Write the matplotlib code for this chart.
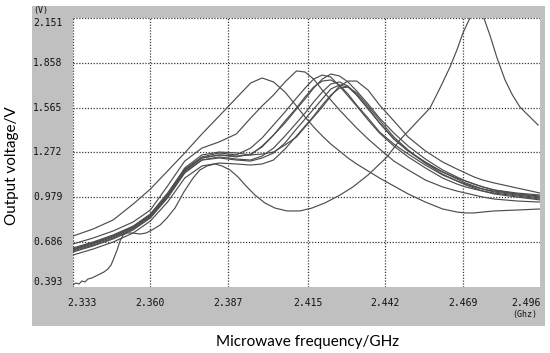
import matplotlib.pyplot as plt
from matplotlib.patches import Rectangle
from matplotlib import transforms

# shared frequency grid (GHz) for the bundle of sweeps
freq = [2.333, 2.340, 2.347, 2.354, 2.360, 2.366, 2.372, 2.378, 2.384, 2.390,
        2.395, 2.399, 2.403, 2.407, 2.411, 2.414, 2.417, 2.420, 2.423, 2.426,
        2.429, 2.432, 2.436, 2.440, 2.445, 2.450, 2.456, 2.462, 2.467, 2.470,
        2.473, 2.476, 2.480, 2.488, 2.496]

volt_b = [0.726, 0.772, 0.831, 0.935, 1.033, 1.151, 1.269, 1.393, 1.510, 1.628,
          1.726, 1.759, 1.733, 1.667, 1.576, 1.504, 1.439, 1.380, 1.327, 1.282,
          1.236, 1.197, 1.151, 1.105, 1.053, 1.001, 0.948, 0.903, 0.883, 0.877,
          0.877, 0.883, 0.890, 0.896, 0.903]
volt_c = [0.674, 0.713, 0.759, 0.818, 0.896, 1.053, 1.216, 1.301, 1.341, 1.393,
          1.497, 1.576, 1.648, 1.733, 1.805, 1.798, 1.752, 1.680, 1.615, 1.550,
          1.491, 1.432, 1.360, 1.295, 1.216, 1.158, 1.092, 1.047, 1.020, 1.007,
          0.994, 0.981, 0.968, 0.955, 0.948]
volt_d = [0.648, 0.687, 0.733, 0.791, 0.870, 1.007, 1.164, 1.243, 1.269, 1.256,
          1.301, 1.367, 1.452, 1.537, 1.628, 1.693, 1.752, 1.778, 1.765, 1.706,
          1.641, 1.576, 1.484, 1.399, 1.314, 1.243, 1.171, 1.105, 1.066, 1.047,
          1.033, 1.020, 1.007, 0.988, 0.968]
volt_e = [0.635, 0.674, 0.720, 0.778, 0.857, 0.988, 1.151, 1.236, 1.256, 1.249,
          1.256, 1.314, 1.386, 1.465, 1.556, 1.622, 1.693, 1.752, 1.785, 1.772,
          1.733, 1.674, 1.589, 1.497, 1.399, 1.314, 1.229, 1.158, 1.112, 1.086,
          1.066, 1.047, 1.027, 1.001, 0.981]
volt_f = [0.622, 0.661, 0.707, 0.766, 0.844, 0.975, 1.138, 1.223, 1.243, 1.229,
          1.223, 1.249, 1.301, 1.380, 1.465, 1.530, 1.602, 1.667, 1.720, 1.733,
          1.706, 1.648, 1.556, 1.465, 1.360, 1.282, 1.210, 1.145, 1.099, 1.073,
          1.053, 1.033, 1.014, 0.994, 0.975]
volt_g = [0.641, 0.681, 0.726, 0.785, 0.864, 1.001, 1.171, 1.256, 1.275, 1.269,
          1.256, 1.262, 1.275, 1.321, 1.373, 1.439, 1.504, 1.569, 1.641, 1.706,
          1.739, 1.739, 1.680, 1.582, 1.478, 1.373, 1.282, 1.210, 1.164, 1.138,
          1.112, 1.092, 1.073, 1.040, 1.007]
volt_h = [0.628, 0.667, 0.713, 0.772, 0.850, 0.981, 1.145, 1.223, 1.236, 1.223,
          1.216, 1.236, 1.269, 1.334, 1.426, 1.491, 1.556, 1.622, 1.687, 1.713,
          1.700, 1.648, 1.563, 1.465, 1.360, 1.282, 1.203, 1.145, 1.105, 1.086,
          1.066, 1.047, 1.027, 1.007, 0.994]
volt_i = [0.602, 0.641, 0.687, 0.746, 0.824, 0.948, 1.105, 1.184, 1.203, 1.197,
          1.190, 1.197, 1.223, 1.295, 1.380, 1.445, 1.510, 1.582, 1.648, 1.693,
          1.700, 1.661, 1.576, 1.484, 1.373, 1.288, 1.203, 1.131, 1.086, 1.060,
          1.040, 1.020, 1.001, 0.981, 0.962]
volt_j = [0.641, 0.681, 0.726, 0.785, 0.864, 0.994, 1.158, 1.236, 1.256, 1.243,
          1.262, 1.308, 1.386, 1.478, 1.563, 1.635, 1.700, 1.739, 1.746, 1.713,
          1.654, 1.582, 1.497, 1.406, 1.327, 1.262, 1.190, 1.125, 1.086, 1.066,
          1.047, 1.033, 1.020, 1.001, 0.988]

# the odd sweep: noisy start, dip, then a large resonance near 2.474 GHz
freq_a = [2.3330, 2.3340, 2.3351, 2.3361, 2.3372, 2.3382, 2.3396, 2.3410, 2.3424,
          2.3438, 2.3452, 2.3463, 2.3473, 2.3484, 2.3494, 2.3505, 2.3518, 2.3539,
          2.3564, 2.3585, 2.3606, 2.3634, 2.3658, 2.3686, 2.3717, 2.3749, 2.3773,
          2.3798, 2.3826, 2.3850, 2.3878, 2.3906, 2.3934, 2.3965, 2.4000, 2.4035,
          2.4077, 2.4122, 2.4164, 2.4209, 2.4262, 2.4307, 2.4360, 2.4426, 2.4471,
          2.4517, 2.4576, 2.4611, 2.4646, 2.4670, 2.4691, 2.4709, 2.4740, 2.4764,
          2.4785, 2.4810, 2.4838, 2.4862, 2.4890, 2.4925, 2.4953]
volt_a = [0.406, 0.419, 0.413, 0.432, 0.426, 0.445, 0.452, 0.465, 0.478,
          0.491, 0.511, 0.537, 0.583, 0.635, 0.694, 0.733, 0.746, 0.746,
          0.739, 0.746, 0.766, 0.798, 0.844, 0.909, 1.014, 1.105, 1.158,
          1.184, 1.197, 1.184, 1.158, 1.112, 1.053, 0.994, 0.942, 0.909,
          0.890, 0.890, 0.909, 0.942, 0.994, 1.047, 1.125, 1.243, 1.354,
          1.445, 1.563, 1.693, 1.831, 1.942, 2.053, 2.125, 2.250, 2.151,
          2.040, 1.890, 1.746, 1.654, 1.569, 1.504, 1.452]

x_ticks = [2.333, 2.360, 2.387, 2.415, 2.442, 2.469, 2.496]
y_ticks = [0.393, 0.686, 0.979, 1.272, 1.565, 1.858, 2.151]

fig = plt.figure(figsize=(5.5, 3.53), dpi=100)
fig.patches.append(Rectangle((32 / 550, 27 / 353), 513 / 550, 320 / 353,
                             transform=fig.transFigure, facecolor='#c0c0c0',
                             edgecolor='none', zorder=-1))
ax = fig.add_axes([73 / 550, 66 / 353, 467 / 550, 269 / 353])
ax.set_xlim(2.333, 2.496)
ax.set_ylim(0.393, 2.151)
for s in ax.spines.values():
    s.set_visible(False)
ax.set_xticks([])
ax.set_yticks([])

grid_kw = dict(color='#3a3a3a', lw=0.9, ls=(0, (1, 1.3)), zorder=1)
for x in x_ticks[:-1]:
    ax.axvline(x, **grid_kw)
for y in y_ticks[1:]:
    ax.axhline(y, **grid_kw)

line_kw = dict(color='#4d4d4d', lw=0.85, zorder=2)
for v in [volt_b, volt_c, volt_d, volt_e, volt_f, volt_g, volt_h, volt_i, volt_j]:
    ax.plot(freq, v, **line_kw)
ax.plot(freq_a, volt_a, **line_kw)

mono = dict(family='DejaVu Sans Mono', fontsize=7, color='#111111')
ty = transforms.blended_transform_factory(fig.transFigure, ax.transData)
for i, y in enumerate(y_ticks):
    va = 'bottom' if i == 0 else ('top' if i == len(y_ticks) - 1 else 'center')
    fig.text(33 / 550, y, f'{y:.3f}', transform=ty, ha='left', va=va, **mono)
fig.text(33 / 550, 1 - 11 / 353, '(V)', ha='left', va='center',
         family='DejaVu Sans Mono', fontsize=6, color='#111111')

tx = transforms.blended_transform_factory(ax.transData, fig.transFigure)
for i, x in enumerate(x_ticks):
    if i == 0:
        fig.text(67 / 550, 1 - 303 / 353, f'{x:.3f}', ha='left', va='center', **mono)
    elif i == len(x_ticks) - 1:
        fig.text(541 / 550, 1 - 303 / 353, f'{x:.3f}', ha='right', va='center', **mono)
    else:
        fig.text(x, 1 - 303 / 353, f'{x:.3f}', transform=tx, ha='center', va='center', **mono)
fig.text(525 / 550, 1 - 314 / 353, '(Ghz)', ha='center', va='center',
         family='DejaVu Sans Mono', fontsize=6, color='#111111')

fig.text(12 / 550, 1 - 166 / 353, 'Output voltage/V', rotation=90,
         ha='center', va='center', family='Lato', fontsize=11)
fig.text(308 / 550, 1 - 342 / 353, 'Microwave frequency/GHz',
         ha='center', va='center', family='Lato', fontsize=11)

fig.savefig('out.png', dpi=100)
